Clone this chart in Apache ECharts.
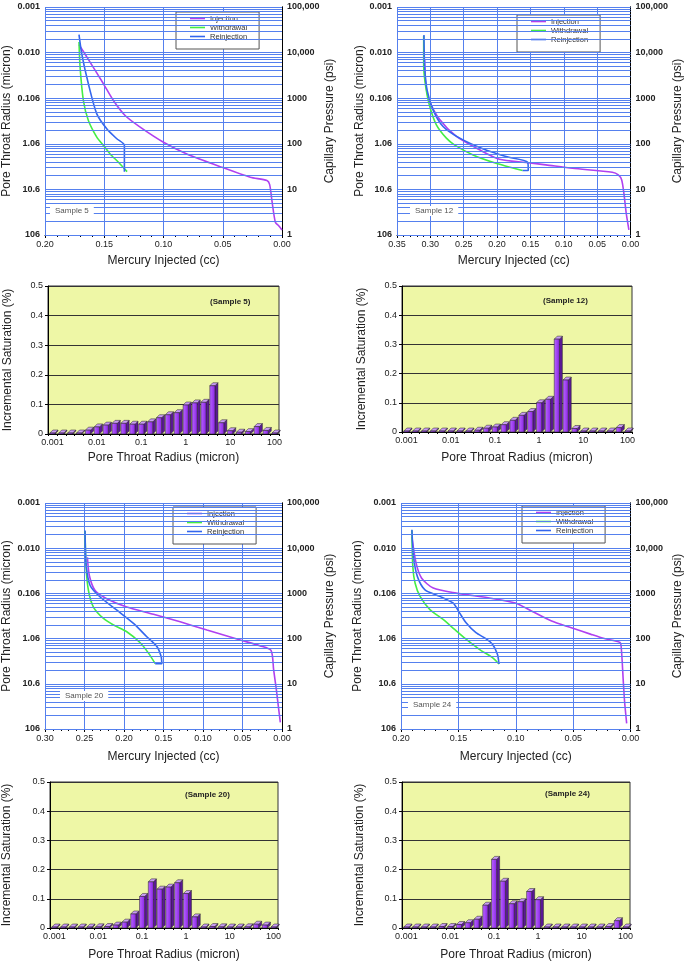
<!DOCTYPE html>
<html><head><meta charset="utf-8">
<script src="https://cdn.jsdelivr.net/npm/echarts@6/dist/echarts.min.js"></script>
<style>html,body{margin:0;padding:0;background:#fff}#c{width:685px;height:962px}</style>
</head><body><div id="c"></div><script>
// ---------- tick labels ----------
const radiusLabels = ['106', '10.6', '1.06', '0.106', '0.010', '0.001'];   // indexed by log10(psi)
const pressureLabels = ['1', '10', '100', '1000', '10,000', '100,000'];
const histRadius = [0.001,0.00158,0.00251,0.00398,0.00631,0.01,0.0158,0.0251,0.0398,0.0631,0.1,0.158,0.251,0.398,0.631,1,1.58,2.51,3.98,6.31,10,15.8,25.1,39.8,63.1,100];
const histTickLabels = {0:'0.001',5:'0.01',10:'0.1',15:'1',20:'10',25:'100'};

// ---------- Sample 5 capillary curves ----------
const s5InjX = [0.1713,0.162,0.1507,0.1423,0.1324,0.1197,0.100,0.0803,0.0507,0.0268,0.0127,0.0104,0.0085,0.0056,0.0028,0.0];
const s5InjP = [15000,6200,2070,890,417,232,108,60,30.6,18.5,15.6,12.7,5.7,1.9,1.6,1.29];
const s5WdrX = [0.1713,0.1704,0.1676,0.1634,0.1563,0.1507,0.1451,0.138,0.1307];
const s5WdrP = [17000,4800,890,324,140,92,60,39.5,24.5];
const s5RejX = [0.133,0.133,0.1394,0.1479,0.1563,0.1634,0.169,0.1713];
const s5RejP = [24.5,92,129,214,454,2070,9400,24700];

// ---------- Sample 12 ----------
const s12InjX = [0.3086,0.307,0.302,0.286,0.261,0.2265,0.1966,0.1568,0.127,0.087,0.0274,0.0184,0.0134,0.010,0.0065,0.0025];
const s12InjP = [6900,2140,922,340,145,74,46,39,34.5,29,23.8,20.8,16.2,8.2,3,1.3];
const s12WdrX = [0.31,0.31,0.307,0.301,0.291,0.276,0.264,0.236,0.2016,0.1618];
const s12WdrP = [23000,5000,1820,665,261,133,95,57,37.5,25.9];
const s12RejX = [0.1618,0.1533,0.1543,0.1867,0.2215,0.256,0.281,0.296,0.305,0.3086,0.3096];
const s12RejP = [25.9,25.9,39.4,52.6,78,133,240,556,1520,5000,24400];

// ---------- Sample 20 ----------
const s20InjX = [0.2463,0.2438,0.2366,0.2218,0.1965,0.1627,0.1289,0.095,0.0528,0.0275,0.0139,0.0106,0.0072,0.0042,0.0021];
const s20InjP = [6300,2460,1160,764,500,346,235,155,93,69,54.6,20.6,7.5,2.75,1.4];
const s20WdrX = [0.2493,0.248,0.245,0.2387,0.226,0.2133,0.1965,0.1795,0.169,0.1605];
const s20WdrP = [24000,3780,1160,500,279,200,142,81,47.7,27.9];
const s20RejX = [0.1605,0.1521,0.153,0.1584,0.1711,0.188,0.209,0.2302,0.2429,0.248,0.2493];
const s20RejP = [27.9,27.9,40,67,110,217,425,832,1500,4470,24500];

// ---------- Sample 24 ----------
const s24InjX = [0.1905,0.1868,0.182,0.1719,0.1519,0.1232,0.1003,0.086,0.0688,0.0516,0.0344,0.0229,0.0092,0.008,0.0063,0.0052,0.0034];
const s24InjP = [17700,4610,2170,1310,1016,791,614,404,244,174,124,100,82,58,10.9,4,1.33];
const s24WdrX = [0.1905,0.1897,0.1877,0.1834,0.1748,0.1633,0.1533,0.1433,0.1318,0.1203,0.1146];
const s24WdrP = [24800,3900,1680,860,439,265,160,97,58,38,27.4];
const s24RejX = [0.1146,0.116,0.1203,0.1261,0.1347,0.1433,0.149,0.1547,0.1662,0.1791,0.1857,0.1891,0.1905];
const s24RejP = [27.4,45,75,100,135,224,371,614,860,1200,2350,6460,25700];

// ---------- Incremental saturation histograms ----------
const s5Inc  = [0.002,0.002,0.002,0.003,0.013,0.024,0.030,0.036,0.036,0.033,0.033,0.041,0.055,0.065,0.072,0.098,0.105,0.107,0.163,0.038,0.011,0.006,0.008,0.025,0.012,0.003];
const s12Inc = [0.001,0.001,0.001,0.002,0.002,0.002,0.003,0.003,0.006,0.013,0.017,0.025,0.040,0.057,0.070,0.100,0.112,0.318,0.178,0.012,0.003,0.002,0.002,0.003,0.015,0.001];
const s20Inc = [0.002,0.002,0.002,0.002,0.002,0.004,0.005,0.010,0.020,0.048,0.108,0.158,0.133,0.140,0.155,0.118,0.038,0.002,0.005,0.004,0.003,0.003,0.004,0.013,0.010,0.002];
const s24Inc = [0.002,0.002,0.002,0.002,0.005,0.005,0.012,0.018,0.030,0.078,0.235,0.160,0.083,0.090,0.125,0.097,0.002,0.002,0.003,0.002,0.002,0.002,0.002,0.005,0.025,0.002];

// ---------- styling ----------
const FONT = 'Liberation Sans';
const C_INJ = '#b040f0', C_WDR = '#44ee44', C_REJ = '#3366ee';
const GRID_BLUE = '#5580ee';
const HIST_BG = '#eef7a6';

const zip = (xs, ys) => xs.map((x, i) => [x, ys[i]]);
const gridVals = [];
for (let k = 0; k <= 4; k++) for (let m = 1; m <= 9; m++) gridVals.push(m * Math.pow(10, k));
gridVals.push(100000);

const capPanels = [
  {name:'Sample 5', left:45, top:7, width:237, height:228, xmax:0.20, inj:[s5InjX,s5InjP], wdr:[s5WdrX,s5WdrP], rej:[s5RejX,s5RejP], lg:32, rg:37, xg:20, legend:[176,12], lab:[50,206]},
  {name:'Sample 12', left:397, top:7, width:236, height:228, xmax:0.35, inj:[s12InjX,s12InjP], wdr:[s12WdrX,s12WdrP], rej:[s12RejX,s12RejP], lg:31, rg:34, xg:20, legend:[517,15], lab:[410,206]},
  {name:'Sample 20', left:45, top:503, width:237, height:226, xmax:0.30, inj:[s20InjX,s20InjP], wdr:[s20WdrX,s20WdrP], rej:[s20RejX,s20RejP], lg:32, rg:37, xg:22, legend:[173,507], lab:[60,691]},
  {name:'Sample 24', left:401, top:503, width:232, height:226, xmax:0.20, inj:[s24InjX,s24InjP], wdr:[s24WdrX,s24WdrP], rej:[s24RejX,s24RejP], lg:37, rg:38, xg:22, legend:[522,506], lab:[408,700]}
];
const histPanels = [
  {name:'(Sample 5)', left:48, top:286, width:231, height:148, vals:s5Inc, yg:34, xg:18, lab:[210,298]},
  {name:'(Sample 12)', left:402, top:286, width:230, height:146, vals:s12Inc, yg:34, xg:20, lab:[543,297]},
  {name:'(Sample 20)', left:50, top:782, width:228, height:146, vals:s20Inc, yg:37, xg:21, lab:[185,791]},
  {name:'(Sample 24)', left:402, top:782, width:228, height:146, vals:s24Inc, yg:36, xg:21, lab:[545,790]}
];

const option = {
  animation: false,
  textStyle: {fontFamily: FONT},
  grid: [], xAxis: [], yAxis: [], series: [], legend: [], title: []
};

const logIdx = v => Math.round(Math.log10(v));

capPanels.forEach(p => {
  const gi = option.grid.length;
  option.grid.push({left:p.left, top:p.top, width:p.width, height:p.height, show:false});
  const xi = option.xAxis.length;
  option.xAxis.push({
    type:'value', gridIndex:gi, inverse:true, min:0, max:p.xmax, interval:0.05,
    name:'Mercury Injected (cc)', nameLocation:'middle', nameGap:p.xg,
    nameTextStyle:{fontSize:12, color:'#222'},
    axisLine:{show:true, onZero:false, lineStyle:{color:'#000', width:1}},
    axisTick:{show:true, length:3, lineStyle:{color:'#000'}},
    minorTick:{show:true, splitNumber:5, length:2, lineStyle:{color:'#000'}},
    axisLabel:{fontSize:9, color:'#222', margin:5, formatter: v => v.toFixed(2)},
    splitLine:{show:true, lineStyle:{color:GRID_BLUE, width:1}}
  });
  const yl = option.yAxis.length;
  option.yAxis.push({
    type:'log', logBase:10, gridIndex:gi, position:'left', min:1, max:100000,
    name:'Pore Throat Radius (micron)', nameLocation:'middle', nameGap:p.lg,
    nameTextStyle:{fontSize:12, color:'#222'},
    axisLine:{show:true, lineStyle:{color:'#000', width:1}},
    axisTick:{show:false},
    axisLabel:{fontSize:9, fontWeight:'bold', color:'#222', margin:5, formatter: v => radiusLabels[logIdx(v)]},
    splitLine:{show:false}
  });
  option.yAxis.push({
    type:'log', logBase:10, gridIndex:gi, position:'right', min:1, max:100000,
    name:'Capillary Pressure (psi)', nameLocation:'middle', nameGap:p.rg,
    nameTextStyle:{fontSize:12, color:'#222'},
    axisLine:{show:true, lineStyle:{color:'#000', width:1}},
    axisTick:{show:false},
    axisLabel:{fontSize:9, fontWeight:'bold', color:'#222', margin:5, formatter: v => pressureLabels[logIdx(v)]},
    splitLine:{show:false}
  });
  // horizontal log gridlines
  option.series.push({
    type:'line', xAxisIndex:xi, yAxisIndex:yl, data:[[0,1]], symbol:'none', silent:true, z:1,
    lineStyle:{opacity:0},
    markLine:{silent:true, symbol:['none','none'], label:{show:false}, animation:false,
      lineStyle:{color:GRID_BLUE, width:1, type:'solid', opacity:1}, emphasis:{disabled:true},
      data: gridVals.map(v => ({yAxis:v}))}
  });
  [['Injection', p.inj, C_INJ], ['Withdrawal', p.wdr, C_WDR], ['Reinjection', p.rej, C_REJ]].forEach(([nm, d, col]) => {
    option.series.push({
      type:'line', name:nm, xAxisIndex:xi, yAxisIndex:yl, data:zip(d[0], d[1]),
      showSymbol:false, symbol:'none', smooth:0.25, z:3,
      lineStyle:{width:1.6, color:col}, itemStyle:{color:col}
    });
  });
  option.legend.push({
    left:p.legend[0], top:p.legend[1], orient:'vertical', backgroundColor:'#fff',
    borderColor:'#555', borderWidth:1, padding:[2,12,8,14], itemGap:0,
    itemWidth:15, itemHeight:9, icon:'path://M0,0 L15,0 L15,1.6 L0,1.6 Z', selectedMode:false,
    textStyle:{fontSize:7.5, color:'#333', lineHeight:9},
    data:['Injection','Withdrawal','Reinjection']
  });
  option.title.push({
    text:p.name, left:p.lab[0], top:p.lab[1], backgroundColor:'#fff', padding:[1,5],
    textStyle:{fontSize:8, color:'#555', fontWeight:'normal', fontFamily:FONT}
  });
});

function bar3d(params, api) {
  const i = api.value(0), v = api.value(1);
  const top = api.coord([i, v]), base = api.coord([i, 0]);
  const w = api.size([1, 0])[0] * 0.58;
  const d = 3;
  let h = base[1] - top[1]; if (h < 1) h = 1;
  const x0 = top[0] - w / 2, x1 = top[0] + w / 2, yT = base[1] - h, yB = base[1];
  return {type:'group', children:[
    {type:'polygon', shape:{points:[[x1,yT],[x1+d,yT-d],[x1+d,yB-d],[x1,yB]]}, style:{fill:'#5a1896', stroke:'#222', lineWidth:0.5}},
    {type:'polygon', shape:{points:[[x0,yT],[x0+d,yT-d],[x1+d,yT-d],[x1,yT]]}, style:{fill:'#c99bf5', stroke:'#222', lineWidth:0.5}},
    {type:'rect', shape:{x:x0, y:yT, width:w, height:h},
      style:{fill:new echarts.graphic.LinearGradient(0,0,1,0,[{offset:0,color:'#b868ff'},{offset:1,color:'#8a22e6'}]), stroke:'#222', lineWidth:0.5}}
  ]};
}

histPanels.forEach(p => {
  const gi = option.grid.length;
  option.grid.push({left:p.left, top:p.top, width:p.width, height:p.height, show:true,
    backgroundColor:HIST_BG, borderColor:'#333', borderWidth:1});
  const xi = option.xAxis.length;
  option.xAxis.push({
    type:'category', gridIndex:gi, data: histRadius.map(String), boundaryGap:true,
    name:'Pore Throat Radius (micron)', nameLocation:'middle', nameGap:p.xg,
    nameTextStyle:{fontSize:12, color:'#222'},
    axisLine:{show:true, lineStyle:{color:'#000'}},
    axisTick:{show:true, interval:0, length:2, lineStyle:{color:'#000'}},
    axisLabel:{fontSize:9, color:'#222', margin:4, interval:(idx) => idx % 5 === 0,
      formatter:(val, idx) => histTickLabels[idx] || ''},
    splitLine:{show:false}
  });
  const yi = option.yAxis.length;
  option.yAxis.push({
    type:'value', gridIndex:gi, min:0, max:0.5, interval:0.1,
    name:'Incremental Saturation (%)', nameLocation:'middle', nameGap:p.yg,
    nameTextStyle:{fontSize:12, color:'#222'},
    axisLine:{show:true, lineStyle:{color:'#000'}},
    axisTick:{show:true, length:3, lineStyle:{color:'#000'}},
    axisLabel:{fontSize:9, color:'#222', margin:5, formatter: v => v === 0 ? '0' : v.toFixed(1)},
    splitLine:{show:true, lineStyle:{color:'#333', width:1}}
  });
  option.series.push({
    type:'custom', xAxisIndex:xi, yAxisIndex:yi, renderItem:bar3d, z:3,
    data: p.vals.map((v, i) => [i, v])
  });
  option.title.push({
    text:p.name, left:p.lab[0], top:p.lab[1], padding:0,
    textStyle:{fontSize:8, color:'#222', fontWeight:'bold', fontFamily:FONT}
  });
});

const chart = echarts.init(document.getElementById('c'));
chart.setOption(option);
</script></body></html>
